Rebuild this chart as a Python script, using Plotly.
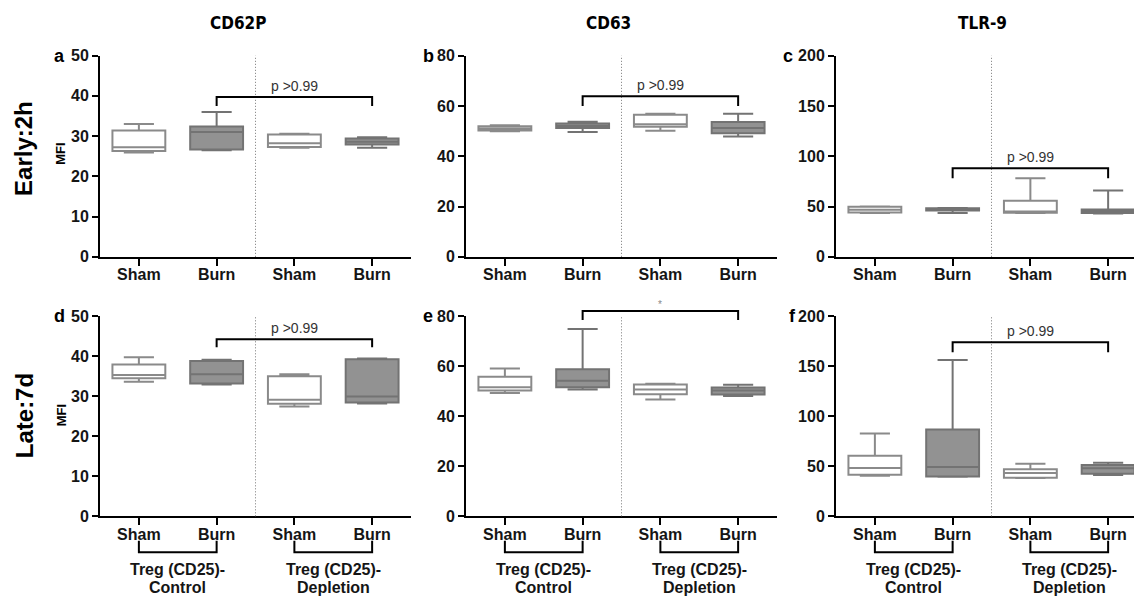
import plotly.graph_objects as go

# ---------------- data ----------------
groups = ["Sham", "Burn", "Sham", "Burn"]
positions = [0, 1, 2, 3]
markers = ["CD62P", "CD63", "TLR-9"]
timepoints = ["Early:2h", "Late:7d"]
panel_letters = ["a", "b", "c", "d", "e", "f"]
y_max = [50, 80, 200]
y_step = [10, 20, 50]

# each entry: [min, q1, median, q3, max] for Sham/Burn (control), Sham/Burn (depletion)
a_stats = [[25.9, 26.3, 27.2, 31.4, 33.0], [26.5, 26.7, 31.0, 32.4, 36.0],
           [27.1, 27.3, 28.2, 30.4, 30.6], [27.1, 27.9, 28.6, 29.4, 29.7]]
b_stats = [[49.9, 50.2, 51.0, 51.9, 52.3], [49.6, 51.2, 52.0, 53.0, 53.7],
           [50.1, 51.7, 52.7, 56.5, 56.9], [47.8, 49.1, 51.2, 53.6, 56.9]]
c_stats = [[43.5, 44.0, 46.7, 49.8, 50.0], [43.5, 46.0, 47.2, 48.2, 48.5],
           [43.5, 43.8, 45.1, 55.7, 78.0], [43.0, 43.5, 45.4, 47.0, 66.0]]
d_stats = [[33.6, 34.5, 35.3, 37.9, 39.7], [32.9, 33.2, 35.5, 38.8, 39.1],
           [27.4, 28.1, 29.1, 35.0, 35.5], [28.2, 28.4, 29.9, 39.2, 39.4]]
e_stats = [[49.3, 50.3, 51.6, 55.8, 59.1], [50.7, 51.6, 54.2, 58.8, 74.8],
           [46.7, 48.8, 50.7, 52.7, 53.0], [48.1, 48.7, 50.3, 51.5, 52.6]]
f_stats = [[40.6, 41.5, 48.3, 60.6, 82.8], [39.5, 39.9, 49.3, 86.7, 156.2],
           [38.3, 38.6, 43.2, 47.0, 52.5], [41.3, 42.5, 48.0, 51.2, 53.4]]

# comparison brackets (Burn control vs Burn depletion)
bracket_bar = [39.7, 63.8, 88.0, 44.2, 82.0, 174.0]
bracket_tip = [37.5, 60.0, 78.0, 42.2, 78.4, 164.0]
bracket_label = ["p >0.99", "p >0.99", "p >0.99", "p >0.99", "*", "p >0.99"]

group_line1 = ["Treg (CD25)-", "Treg (CD25)-"]
group_line2 = ["Control", "Depletion"]

# ---------------- layout geometry (pixels) ----------------
W, H = 1134, 606
col_px = [(100, 411), (466, 777), (836, 1134)]
row_px = [(49, 256), (317, 523)]
letter_px = [59, 428, 788, 59, 428, 792]
unit_px = (411 - 100) / 4.0  # pixels per category step

FONT = "Liberation Sans, Arial, sans-serif"
NARROW = "Liberation Sans Narrow, Arial Narrow, DejaVu Sans Condensed, sans-serif"

SHAM_FILL = "white"
SHAM_LINE = "#8a8a8a"
BURN_FILL = "#929292"
BURN_LINE = "#737373"

fig = go.Figure()
panels = [a_stats, b_stats, c_stats, d_stats, e_stats, f_stats]
annotations = []
shapes = []

for i, stats in enumerate(panels):
    r, c = divmod(i, 3)
    n = i + 1
    xa = "x" if n == 1 else f"x{n}"
    ya = "y" if n == 1 else f"y{n}"
    for g in range(4):
        s = stats[g]
        burn = groups[g] == "Burn"
        fig.add_trace(go.Box(
            x=[positions[g]], lowerfence=[s[0]], q1=[s[1]], median=[s[2]],
            q3=[s[3]], upperfence=[s[4]],
            xaxis=xa, yaxis=ya, width=0.68, whiskerwidth=0.57,
            fillcolor=BURN_FILL if burn else SHAM_FILL,
            line=dict(color=BURN_LINE if burn else SHAM_LINE, width=2),
            boxpoints=False, showlegend=False, hoverinfo="skip",
        ))

    x0p, x1p = col_px[c]
    y0p, y1p = row_px[r]
    xr_right = -0.5 + (x1p - x0p) / unit_px
    ymax = y_max[c]
    xkey = "xaxis" if n == 1 else f"xaxis{n}"
    ykey = "yaxis" if n == 1 else f"yaxis{n}"
    fig.layout[xkey] = dict(
        domain=[x0p / W, x1p / W], range=[-0.5, xr_right], anchor=ya,
        tickmode="array", tickvals=positions, ticktext=groups,
        showline=True, linewidth=2, linecolor="black",
        ticks="outside", ticklen=7, tickwidth=2, tickcolor="black",
        ticklabelstandoff=-5,
        showgrid=False, zeroline=False, fixedrange=True,
        tickfont=dict(family=FONT, size=16, color="#151515", weight="bold"),
    )
    fig.layout[ykey] = dict(
        domain=[1 - y1p / H, 1 - y0p / H], range=[0, ymax], anchor=xa,
        tickmode="array", tickvals=list(range(0, ymax + 1, y_step[c])),
        showline=True, linewidth=2, linecolor="black",
        ticks="outside", ticklen=6, tickwidth=2, tickcolor="black",
        showgrid=False, zeroline=False, fixedrange=True,
        tickfont=dict(family=FONT, size=16, color="#151515", weight="bold"),
    )

    ydom = f"{ya} domain"
    # dotted divider between control and depletion
    shapes.append(dict(type="line", xref=xa, yref=ydom, x0=1.5, x1=1.5, y0=0, y1=1,
                       line=dict(color="#777777", width=1, dash="1px,2px")))
    # comparison bracket
    tb = bracket_tip[i] / ymax
    bb = bracket_bar[i] / ymax
    shapes.append(dict(type="path", xref=xa, yref=ydom,
                       path=f"M 1,{tb} L 1,{bb} L 3,{bb} L 3,{tb}",
                       line=dict(color="black", width=2)))
    star = bracket_label[i] == "*"
    annotations.append(dict(
        x=2, y=bb, xref=xa, yref=ydom, text=bracket_label[i], showarrow=False,
        yanchor="bottom", yshift=1 if not star else -1,
        font=dict(family=FONT, size=14 if not star else 10,
                  color="#333333" if not star else "#888888"),
    ))
    # panel letter
    annotations.append(dict(
        x=letter_px[i] / W, y=1 - y0p / H, xref="paper", yref="paper",
        text=panel_letters[i], showarrow=False, xanchor="center", yanchor="middle",
        font=dict(family=FONT, size=18, color="black", weight="bold"),
    ))
    # group brackets under bottom row
    if r == 1:
        hpx = y1p - y0p
        t_dom = -25.0 / hpx
        b_dom = -37.0 / hpx
        for k in range(2):
            xa_l, xa_r = positions[2 * k], positions[2 * k + 1]
            shapes.append(dict(type="path", xref=xa, yref=ydom,
                               path=f"M {xa_l},{t_dom} L {xa_l},{b_dom} L {xa_r},{b_dom} L {xa_r},{t_dom}",
                               line=dict(color="black", width=2)))
            xm = (xa_l + xa_r) / 2
            annotations.append(dict(
                x=xm, y=-55.0 / hpx, xref=xa, yref=ydom, text=group_line1[k],
                showarrow=False, yanchor="middle",
                font=dict(family=FONT, size=16, color="#151515", weight="bold")))
            annotations.append(dict(
                x=xm, y=-73.0 / hpx, xref=xa, yref=ydom, text=group_line2[k],
                showarrow=False, yanchor="middle",
                font=dict(family=FONT, size=16, color="#151515", weight="bold")))

# column titles
title_x = [238, 608, 982]
for c, m in enumerate(markers):
    annotations.append(dict(
        x=title_x[c] / W, y=1 - 15 / H, xref="paper", yref="paper", text=m,
        showarrow=False, xanchor="center", yanchor="middle",
        font=dict(family=NARROW, size=17, color="black", weight="bold")))

# row titles and MFI labels
row_center = [145, 420]
mfi_center = [150, 419]
for r, t in enumerate(timepoints):
    annotations.append(dict(
        x=24 / W, y=1 - row_center[r] / H, xref="paper", yref="paper", text=t,
        showarrow=False, textangle=-90, xanchor="center", yanchor="middle",
        font=dict(family=FONT, size=24, color="black", weight="bold")))
    annotations.append(dict(
        x=61 / W, y=1 - mfi_center[r] / H, xref="paper", yref="paper", text="MFI",
        showarrow=False, textangle=-90, xanchor="center", yanchor="middle",
        font=dict(family=FONT, size=13, color="black", weight="bold")))

fig.update_layout(
    width=W, height=H, margin=dict(l=0, r=0, t=0, b=0),
    paper_bgcolor="white", plot_bgcolor="white",
    boxmode="overlay", showlegend=False,
    shapes=shapes, annotations=annotations,
)

fig.write_html("out.html")
